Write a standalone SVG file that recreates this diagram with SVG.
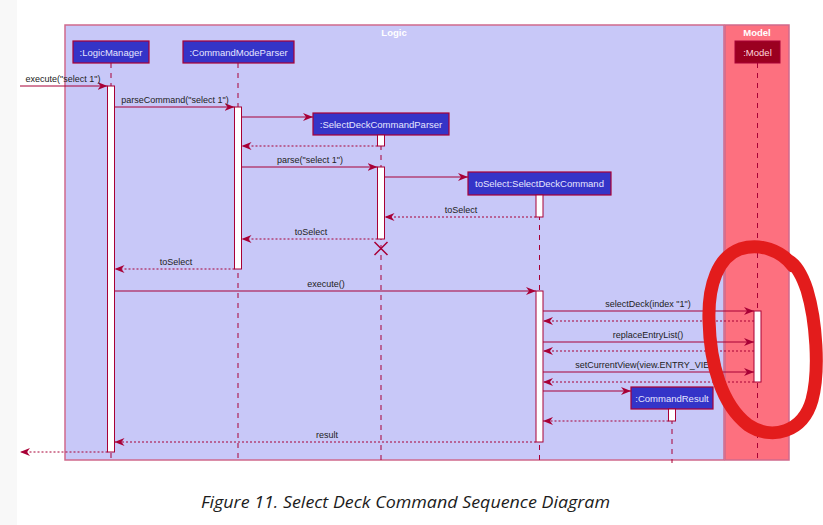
<svg xmlns="http://www.w3.org/2000/svg" width="823" height="525" viewBox="0 0 823 525">
<style>
.box{stroke:#cf6a8c;stroke-width:1.5}
.ll{stroke:#a80036;stroke-width:1;stroke-dasharray:5,5;fill:none}
.part{fill:#3434c8;stroke:#a80036;stroke-width:1.2}
.ptxt{font-family:"Liberation Sans",Arial,sans-serif;font-size:9.5px;fill:#e6e6ff;text-anchor:middle}
.act{fill:#ffffff;stroke:#a80036;stroke-width:1}
.msg{stroke:#a80036;stroke-width:1;fill:none;marker-end:url(#ah)}
.ret{stroke:#a80036;stroke-width:1;fill:none;stroke-dasharray:2,2;marker-end:url(#ah)}
.lbl{font-family:"Liberation Sans",Arial,sans-serif;font-size:9px;fill:#222;text-anchor:middle}
.ttl{font-family:"Liberation Sans",Arial,sans-serif;font-size:9.5px;font-weight:bold;fill:#ffffff;text-anchor:middle}
</style>
<defs>
<marker id="ah" markerUnits="userSpaceOnUse" markerWidth="11" markerHeight="9" refX="10" refY="4.5" orient="auto">
<path d="M0,0.5 L10,4.5 L0,8.5 L3,4.5 Z" fill="#a80036"/>
</marker>
</defs>
<rect x="0" y="0" width="823" height="525" fill="#ffffff"/>
<rect x="0" y="0" width="17" height="525" fill="#f8f8f8"/>
<g id="logic-box">
<rect class="box" x="65" y="25" width="659" height="435" fill="#c8c8f8"/>
<text class="ttl" x="394" y="36">Logic</text>
</g>
<g id="model-box">
<rect class="box" x="725" y="25" width="64" height="435" fill="#fd707f"/>
<text class="ttl" x="757" y="36">Model</text>
</g>
<g id="lifelines">
<line class="ll" x1="111" y1="63" x2="111" y2="463"/>
<line class="ll" x1="238" y1="63" x2="238" y2="463"/>
<line class="ll" x1="381" y1="135" x2="381" y2="463"/>
<line class="ll" x1="539.5" y1="195" x2="539.5" y2="463"/>
<line class="ll" x1="672" y1="409" x2="672" y2="463"/>
<line class="ll" x1="757.5" y1="63" x2="757.5" y2="463"/>
</g>
<g id="LogicManager">
<rect class="part" x="73" y="41" width="76" height="22"/>
<text class="ptxt" x="111" y="55.5">:LogicManager</text>
<rect class="act" x="107.5" y="86" width="7" height="366"/>
</g>
<g id="CommandModeParser">
<rect class="part" x="183" y="41" width="111" height="22"/>
<text class="ptxt" x="238.5" y="55.5">:CommandModeParser</text>
<rect class="act" x="234.5" y="107" width="7" height="162"/>
</g>
<g id="SelectDeckCommandParser">
<rect class="part" x="313" y="113" width="136" height="22"/>
<text class="ptxt" x="381" y="127.5">:SelectDeckCommandParser</text>
<rect class="act" x="377.5" y="135" width="7" height="11"/>
<rect class="act" x="377.5" y="167" width="7" height="72"/>
<path d="M374.5,242 L387.5,255 M387.5,242 L374.5,255" stroke="#a80036" stroke-width="1.5" fill="none"/>
</g>
<g id="SelectDeckCommand">
<rect class="part" x="468" y="172" width="143" height="23"/>
<text class="ptxt" x="539.5" y="187">toSelect:SelectDeckCommand</text>
<rect class="act" x="536" y="195" width="7" height="22"/>
<rect class="act" x="536" y="291" width="7" height="151"/>
</g>
<g id="CommandResult">
<rect class="part" x="631" y="387" width="82" height="22"/>
<text class="ptxt" x="672" y="401.5">:CommandResult</text>
<rect class="act" x="668.5" y="409" width="7" height="12"/>
</g>
<g id="Model">
<rect x="735" y="41" width="45" height="22" fill="#9b0020" stroke="#a80036" stroke-width="1"/>
<text class="ptxt" x="757.5" y="55.5" style="fill:#ffd6dc">:Model</text>
<rect class="act" x="754" y="311" width="7" height="71"/>
</g>
<g id="connectors">
<path class="msg" d="M20,86 H107.5"/>
<path class="msg" d="M114.5,107 H234.5"/>
<path class="msg" d="M241.5,117 H313"/>
<path class="ret" d="M377.5,146 H241.5"/>
<path class="msg" d="M241.5,167 H377.5"/>
<path class="msg" d="M384.5,177 H468"/>
<path class="ret" d="M536,217 H384.5"/>
<path class="ret" d="M377.5,239 H241.5"/>
<path class="ret" d="M234.5,269 H114.5"/>
<path class="msg" d="M114.5,291 H536"/>
<path class="msg" d="M543,311 H754"/>
<path class="ret" d="M754,321 H543"/>
<path class="msg" d="M543,342 H754"/>
<path class="ret" d="M754,351 H543"/>
<path class="msg" d="M543,372 H754"/>
<path class="ret" d="M754,382 H543"/>
<path class="msg" d="M543,391 H631"/>
<path class="ret" d="M668.5,421 H543"/>
<path class="ret" d="M536,442 H114.5"/>
<path class="ret" d="M107.5,452 H20"/>
</g>
<g id="labels">
<text class="lbl" x="63" y="82">execute("select 1")</text>
<text class="lbl" x="175" y="103">parseCommand("select 1")</text>
<text class="lbl" x="310" y="163">parse("select 1")</text>
<text class="lbl" x="461" y="213">toSelect</text>
<text class="lbl" x="311" y="235">toSelect</text>
<text class="lbl" x="176" y="265">toSelect</text>
<text class="lbl" x="326" y="287">execute()</text>
<text class="lbl" x="648" y="307">selectDeck(index "1")</text>
<text class="lbl" x="648" y="338">replaceEntryList()</text>
<text class="lbl" x="648" y="368">setCurrentView(view.ENTRY_VIEW)</text>
<text class="lbl" x="327" y="438">result</text>
</g>
<g id="annotation">
<path d="M793,266 C781,250 760,243 740,249 C718,257 708,285 709,320 C710,365 722,405 748,425 C772,441 803,432 812,400 C820,370 816,320 807,290 C802,275 796,265 789,261" fill="none" stroke="#e31c1c" stroke-width="13" stroke-linecap="round" stroke-linejoin="round"/>
</g>
<text x="201" y="508" font-family="'Open Sans','Noto Sans',sans-serif" font-style="italic" font-size="17" fill="#1c1c1c" textLength="409" lengthAdjust="spacingAndGlyphs">Figure 11. Select Deck Command Sequence Diagram</text>
</svg>
